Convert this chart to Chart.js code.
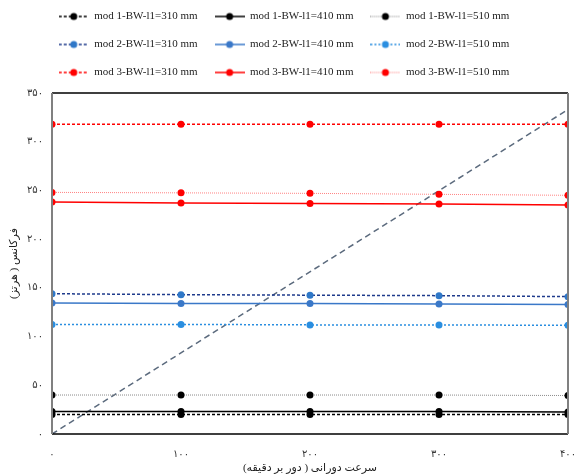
<!DOCTYPE html>
<html>
<head>
<meta charset="utf-8">
<script src="https://cdn.jsdelivr.net/npm/chart.js@4.4.0/dist/chart.umd.min.js"></script>
<style>
    html, body { margin: 0; padding: 0; background: #fff; }
    #wrap { width: 575px; height: 475px; }
</style>
</head>
<body>
<div id="wrap"><canvas id="chart"></canvas></div>
<script>
const speeds = [0, 100, 200, 300, 400];
const xTicks = [0, 100, 200, 300, 400];
const yTicks = [0, 50, 100, 150, 200, 250, 300, 350];

const mod1_310 = [20, 20, 20, 20, 20];
const mod1_410 = [23, 23, 23, 23, 22.5];
const mod1_510 = [40, 40, 40, 40, 39.5];
const mod2_310 = [144, 143, 142.5, 142, 141];
const mod2_410 = [134.5, 134, 134, 133.5, 133];
const mod2_510 = [112.5, 112.5, 112, 112, 111.5];
const mod3_310 = [318, 318, 318, 318, 318];
const mod3_410 = [238, 237, 236.5, 236, 235];
const mod3_510 = [248, 247.5, 247, 246, 245];

const lineX = [0, 400];
const lineY = [0, 333];

const faDigits = '۰۱۲۳۴۵۶۷۸۹';
function toFa(n) {
    return String(n).replace(/[0-9]/g, d => faDigits[d]);
}

const series = [
    { label: 'mod 1-BW-l1=310 mm', data: mod1_310, line: '#000', dot: '#000', dash: [3, 2], width: 1.5 },
    { label: 'mod 1-BW-l1=410 mm', data: mod1_410, line: '#000', dot: '#000', dash: [], width: 1.5 },
    { label: 'mod 1-BW-l1=510 mm', data: mod1_510, line: '#8a8a8a', dot: '#000', dash: [1, 1], width: 1 },
    { label: 'mod 2-BW-l1=310 mm', data: mod2_310, line: '#1f3b8c', dot: '#2f78c8', dash: [3, 2], width: 1.5 },
    { label: 'mod 2-BW-l1=410 mm', data: mod2_410, line: '#3a78c8', dot: '#3a78c8', dash: [], width: 1.5 },
    { label: 'mod 2-BW-l1=510 mm', data: mod2_510, line: '#2a8ee0', dot: '#2a8ee0', dash: [2, 2], width: 1.5 },
    { label: 'mod 3-BW-l1=310 mm', data: mod3_310, line: '#ff0000', dot: '#ff0000', dash: [3, 2], width: 1.5 },
    { label: 'mod 3-BW-l1=410 mm', data: mod3_410, line: '#ff0000', dot: '#ff0000', dash: [], width: 1.5 },
    { label: 'mod 3-BW-l1=510 mm', data: mod3_510, line: '#ff8080', dot: '#ff0000', dash: [1, 1], width: 1 }
];

// little line + dot pictures for the legend
function makeIcon(s) {
    const c = document.createElement('canvas');
    c.width = 30;
    c.height = 10;
    const g = c.getContext('2d');
    g.strokeStyle = s.line;
    g.lineWidth = s.width;
    g.setLineDash(s.dash);
    g.beginPath();
    g.moveTo(0, 5);
    g.lineTo(30, 5);
    g.stroke();
    g.fillStyle = s.dot;
    g.beginPath();
    g.arc(15, 5, 3.5, 0, Math.PI * 2);
    g.fill();
    return c;
}
const icons = series.map(makeIcon);

const datasets = series.map(s => ({
    label: s.label,
    data: s.data.map((v, i) => ({ x: speeds[i], y: v })),
    borderColor: s.line,
    borderWidth: s.width,
    borderDash: s.dash,
    pointBackgroundColor: s.dot,
    pointBorderColor: s.dot,
    pointRadius: 3.5,
    pointBorderWidth: 0,
    fill: false,
    tension: 0
}));

datasets.push({
    label: 'ref',
    data: lineX.map((v, i) => ({ x: v, y: lineY[i] })),
    borderColor: '#5b6a7d',
    borderWidth: 1.5,
    borderDash: [6, 4],
    pointRadius: 0,
    fill: false
});

const frameBox = {
    id: 'frameBox',
    beforeLayout(chart) {
        // a bit more room under the legend
        const lg = chart.legend;
        if (lg && !lg._extraRoom) {
            const fit = lg.fit;
            lg.fit = function () {
                fit.call(this);
                this.height += 5;
            };
            lg._extraRoom = true;
        }
    },
    afterDatasetsDraw(chart) {
        const { ctx, chartArea: a } = chart;
        ctx.save();
        ctx.strokeStyle = '#000';
        ctx.lineWidth = 1.5;
        ctx.beginPath();
        ctx.moveTo(a.left, a.top);
        ctx.lineTo(a.right, a.top);
        ctx.moveTo(a.left, a.bottom);
        ctx.lineTo(a.right, a.bottom);
        ctx.stroke();
        ctx.strokeStyle = '#808080';
        ctx.lineWidth = 2;
        ctx.beginPath();
        ctx.moveTo(a.left, a.top);
        ctx.lineTo(a.left, a.bottom);
        ctx.moveTo(a.right, a.top);
        ctx.lineTo(a.right, a.bottom);
        ctx.stroke();
        ctx.restore();
    }
};

const fontFam = "'Liberation Serif', 'DejaVu Sans', serif";

new Chart(document.getElementById('chart'), {
    type: 'line',
    data: { datasets: datasets },
    options: {
        responsive: true,
        maintainAspectRatio: false,
        animation: false,
        layout: { padding: { top: -6, right: 7, left: 0, bottom: 0 } },
        scales: {
            x: {
                type: 'linear',
                min: 0,
                max: 400,
                afterBuildTicks: axis => { axis.ticks = xTicks.map(v => ({ value: v })); },
                grid: { display: false, drawTicks: false },
                border: { display: false },
                ticks: {
                    callback: v => toFa(v),
                    color: '#333',
                    font: { family: fontFam, size: 10 },
                    padding: 14
                },
                title: {
                    display: true,
                    text: 'سرعت دورانی ( دور بر دقیقه)',
                    color: '#222',
                    font: { family: fontFam, size: 11 },
                    padding: { top: 0, bottom: 0 }
                },
                afterFit: axis => {
                    axis.height = 41;
                    axis.paddingRight = 0;
                    axis.paddingLeft = 0;
                }
            },
            y: {
                type: 'linear',
                min: 0,
                max: 350,
                afterBuildTicks: axis => { axis.ticks = yTicks.map(v => ({ value: v })); },
                grid: { display: false, drawTicks: false },
                border: { display: false },
                ticks: {
                    callback: v => toFa(v),
                    color: '#333',
                    font: { family: fontFam, size: 10 },
                    padding: 9
                },
                title: {
                    display: true,
                    text: 'فرکانس ( هرتز)',
                    color: '#222',
                    font: { family: fontFam, size: 11 },
                    padding: { top: 8, bottom: 4 }
                },
                afterFit: axis => { axis.width = 52; }
            }
        },
        plugins: {
            legend: {
                position: 'top',
                labels: {
                    usePointStyle: true,
                    pointStyleWidth: 30,
                    boxHeight: 11,
                    padding: 17,
                    color: '#222',
                    font: { family: fontFam, size: 11 },
                    filter: item => item.datasetIndex < 9,
                    generateLabels: chart => Chart.defaults.plugins.legend.labels.generateLabels(chart)
                        .map(l => Object.assign(l, { pointStyle: icons[l.datasetIndex] }))
                }
            },
            tooltip: { enabled: false }
        }
    },
    plugins: [frameBox]
});
</script>
</body>
</html>
